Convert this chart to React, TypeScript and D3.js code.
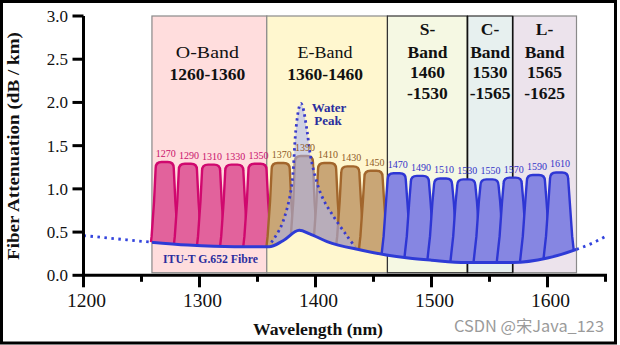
import React from 'react';
import * as d3 from 'd3';

// ---- data ----
const bandEdges = [1259, 1358, 1462, 1531, 1570, 1625]; // drawn band boundaries (nm)
const bandLines: string[][] = [
  ['O-Band', '1260-1360'],
  ['E-Band', '1360-1460'],
  ['S-', 'Band', '1460', '-1530'],
  ['C-', 'Band', '1530', '-1565'],
  ['L-', 'Band', '1565', '-1625'],
];
const bandFill = ['#FFDDDD', '#FFF7CF', '#F5F8E3', '#E7F0EF', '#ECE3EC'];

const channels = [1270, 1290, 1310, 1330, 1350, 1370, 1390, 1410, 1430, 1450, 1470, 1490, 1510, 1530, 1550, 1570, 1590, 1610];
const channelTops = [1.31, 1.29, 1.28, 1.28, 1.29, 1.30, 1.38, 1.30, 1.26, 1.21, 1.18, 1.15, 1.12, 1.11, 1.11, 1.13, 1.16, 1.19];

const attWave = [1200, 1230, 1257, 1290, 1330, 1360, 1372, 1386, 1395, 1410, 1440, 1461, 1480, 1500, 1530, 1570, 1600, 1625, 1640, 1650];
const attVals = [0.46, 0.42, 0.385, 0.35, 0.33, 0.33, 0.40, 0.52, 0.48, 0.39, 0.29, 0.235, 0.20, 0.175, 0.148, 0.148, 0.20, 0.30, 0.38, 0.45];

const peakWave = [1362, 1369.4, 1375, 1379.5, 1383.2, 1386, 1387.5, 1389, 1392.4, 1396.7, 1405.3, 1415.1, 1426.9, 1434];
const peakVals = [0.38, 0.54, 0.75, 1.04, 1.70, 1.95, 1.99, 1.95, 1.70, 1.31, 0.92, 0.69, 0.46, 0.33];

const xMajor = [1200, 1300, 1400, 1500, 1600];
const xMinor = [1250, 1350, 1450, 1550, 1650];
const yTicks = [0, 0.5, 1.0, 1.5, 2.0, 2.5, 3.0];

const W = 620, H = 345;
const x = d3.scaleLinear().domain([1200, 1650]).range([83.5, 605.5]);
const y = d3.scaleLinear().domain([0, 3]).range([275.3, 16]);

function chStyle(c: number) {
  if (c < 1360) return { fill: '#E2629C', stroke: '#D0086E', label: '#C8106C' };
  if (c < 1460) return { fill: '#C9A676', stroke: '#A2662C', label: '#8E5A26' };
  return { fill: '#8686E2', stroke: '#2E36D4', label: '#3333C8' };
}

function channelPath(c: number, top: number) {
  const r = 6;
  const yt = y(top);
  const xl = x(c - 7.8), xr = x(c + 7.8);
  return [
    `M${x(c - 15)},${y(0)}`,
    `L${x(c - 11.3)},${y(0.45)}`,
    `L${x(c - 9.2)},${y(0.85)}`,
    `L${xl},${yt + r}`,
    `Q${xl},${yt} ${xl + r},${yt}`,
    `L${xr - r},${yt}`,
    `Q${xr},${yt} ${xr},${yt + r}`,
    `L${x(c + 9.2)},${y(0.85)}`,
    `L${x(c + 11.3)},${y(0.45)}`,
    `L${x(c + 15)},${y(0)}`,
    'Z',
  ].join(' ');
}

export default function App() {
  const att: [number, number][] = attWave.map((w, i) => [w, attVals[i]]);
  const peak: [number, number][] = peakWave.map((w, i) => [w, peakVals[i]]);
  const attLine = d3.line<[number, number]>().x(d => x(d[0])).y(d => y(d[1])).curve(d3.curveMonotoneX)(att) || '';
  const clipArea = d3.area<[number, number]>().x(d => x(d[0])).y0(0).y1(d => y(d[1])).curve(d3.curveMonotoneX)(att) || '';
  const peakLine = d3.line<[number, number]>().x(d => x(d[0])).y(d => y(d[1])).curve(d3.curveCatmullRom)(peak) || '';

  const serif = '"Liberation Serif", "Times New Roman", serif';
  const x0 = x(bandEdges[0]), x1 = x(bandEdges[bandEdges.length - 1]);

  return (
    <svg width={W} height={H} style={{ position: 'absolute', left: 0, top: 0 }} fontFamily={serif}>
      <defs>
        <clipPath id="above">
          <path d={clipArea} />
        </clipPath>
        <clipPath id="solidPart">
          <rect x={x0} y={0} width={x1 - x0} height={H} />
        </clipPath>
        <clipPath id="dotPart">
          <rect x={0} y={0} width={x0} height={H} />
          <rect x={x1} y={0} width={W - x1} height={H} />
        </clipPath>
      </defs>
      <rect x={0} y={0} width={W} height={H} fill="#fff" />

      {/* bands */}
      {bandFill.map((f, i) => (
        <rect key={'b' + i} x={x(bandEdges[i])} y={y(3)} width={x(bandEdges[i + 1]) - x(bandEdges[i])}
          height={y(0.03) - y(3)} fill={f} stroke={i === 2 || i === 3 ? '#333' : '#8a8a8a'} strokeWidth={1.2} />
      ))}
      <line x1={x(bandEdges[3])} x2={x(bandEdges[3])} y1={y(3)} y2={y(0.03)} stroke="#111" strokeWidth={1.6} />
      <line x1={x(bandEdges[4])} x2={x(bandEdges[4])} y1={y(3)} y2={y(0.03)} stroke="#111" strokeWidth={1.6} />

      {/* band labels */}
      {bandLines.map((lines, i) => {
        const cx = (x(bandEdges[i]) + x(bandEdges[i + 1])) / 2;
        const two = lines.length === 2;
        const base = two ? [58, 80] : [35, 57.5, 78, 99];
        return lines.map((t, j) => (
          <text key={'bl' + i + j} x={two ? cx - 2 : cx} y={base[j]} textAnchor="middle" fontSize={17.5}
            fontWeight={two && j === 0 ? 'normal' : 'bold'} fill="#111"
            textLength={two && j === 0 ? (i === 0 ? 63 : 55) : undefined}
            lengthAdjust="spacingAndGlyphs">{t}</text>
        ));
      })}

      {/* channels */}
      <g clipPath="url(#above)">
        {channels.map((c, i) => {
          const s = chStyle(c);
          return <path key={'c' + c} d={channelPath(c, channelTops[i])} fill={s.fill} stroke={s.stroke}
            strokeWidth={2.4} strokeLinejoin="round" />;
        })}
        {/* water peak */}
        <path d={peakLine} fill="#A9B2F2" fillOpacity={0.55} stroke="none" />
      </g>
      <path d={peakLine} fill="none" stroke="#3A3CCB" strokeWidth={2.8} strokeDasharray="2.4 3.6" />

      {/* channel labels */}
      {channels.map((c, i) => (
        <text key={'cl' + c} x={x(c) + 1} y={y(channelTops[i]) - 5} textAnchor="middle" fontSize={10}
          fill={chStyle(c).label}>{c}</text>
      ))}

      {/* attenuation curve */}
      <path d={attLine} fill="none" stroke="#2E3BD6" strokeWidth={3} clipPath="url(#solidPart)" />
      <path d={attLine} fill="none" stroke="#3344DD" strokeWidth={2.8} strokeDasharray="2.5 4.5" clipPath="url(#dotPart)" />

      {/* annotations */}
      <text x={329} y={111.5} textAnchor="middle" fontSize={13} fontWeight="bold" fill="#2B2E9E">Water</text>
      <text x={328} y={125} textAnchor="middle" fontSize={13} fontWeight="bold" fill="#2B2E9E">Peak</text>
      <text x={210.5} y={263} textAnchor="middle" fontSize={12} fontWeight="bold" fill="#2B2E9E"
        textLength={95} lengthAdjust="spacingAndGlyphs">ITU-T G.652 Fibre</text>

      {/* axes */}
      <line x1={x(1200)} x2={x(1200)} y1={y(3)} y2={y(0) + 1.5} stroke="#000" strokeWidth={3} />
      <line x1={x(1200) - 1.5} x2={x(1650) + 1.5} y1={y(0)} y2={y(0)} stroke="#000" strokeWidth={3} />
      {yTicks.map(t => (
        <g key={'yt' + t}>
          <line x1={x(1200) - 11} x2={x(1200)} y1={y(t)} y2={y(t)} stroke="#000" strokeWidth={3} />
          <text x={68} y={y(t) + 6} textAnchor="end" fontSize={17} fill="#111">{t.toFixed(1)}</text>
        </g>
      ))}
      {xMajor.map(t => (
        <g key={'xt' + t}>
          <line x1={x(t)} x2={x(t)} y1={y(0)} y2={y(0) + 12} stroke="#000" strokeWidth={3} />
          <text x={x(t) + 3} y={306.5} textAnchor="middle" fontSize={19.5} fill="#111">{t}</text>
        </g>
      ))}
      {xMinor.map(t => (
        <line key={'xm' + t} x1={x(t)} x2={x(t)} y1={y(0)} y2={y(0) + 6.5} stroke="#000" strokeWidth={3} />
      ))}

      {/* axis titles */}
      <text x={318} y={335} textAnchor="middle" fontSize={17} fontWeight="bold" fill="#111"
        textLength={130} lengthAdjust="spacingAndGlyphs">Wavelength (nm)</text>
      <text transform={`translate(19,146) rotate(-90)`} textAnchor="middle" fontSize={17} fontWeight="bold" fill="#111"
        textLength={228} lengthAdjust="spacingAndGlyphs">Fiber Attenuation (dB / km)</text>

      {/* watermark */}
      <text x={604} y={332} textAnchor="end" fontSize={15.5} fill="#9A9A9A"
        fontFamily='"Noto Sans CJK SC", "Noto Sans", sans-serif' textLength={150} lengthAdjust="spacingAndGlyphs">CSDN @宋Java_123</text>

      {/* frame */}
      <rect x={1.5} y={1.5} width={614} height={341.5} fill="none" stroke="#000" strokeWidth={3} />
    </svg>
  );
}
